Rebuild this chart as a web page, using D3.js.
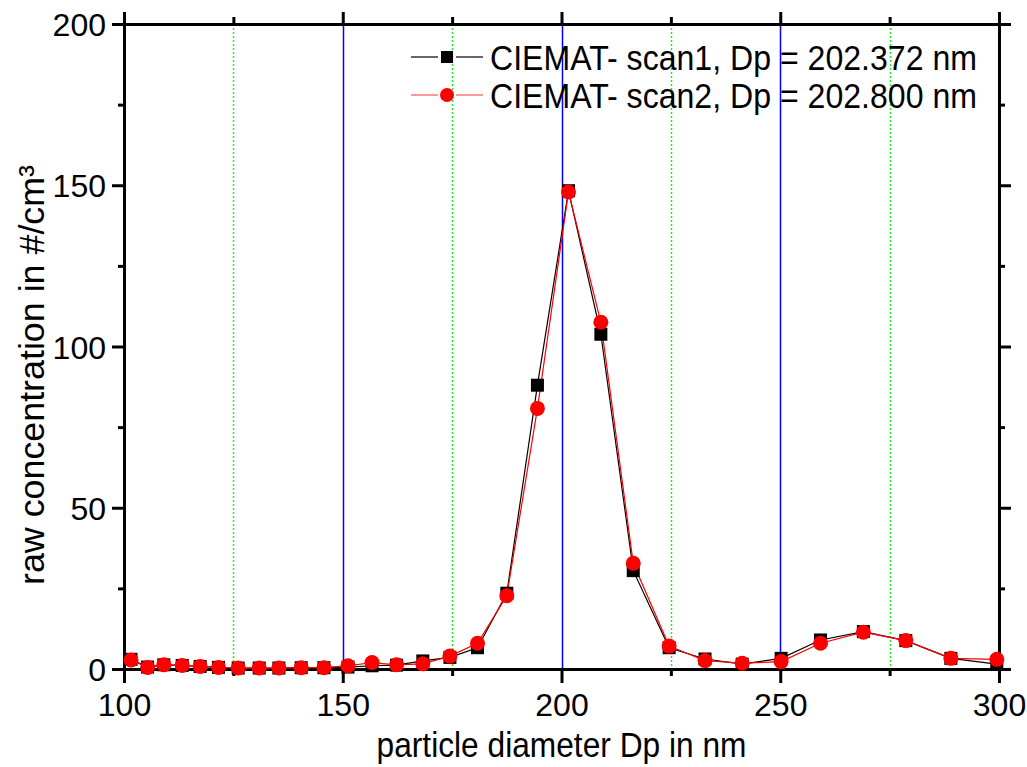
<!DOCTYPE html>
<meta charset="utf-8">
<style>
body { margin: 0; background: #fff; }
svg { font-family: "Liberation Sans", Arial, sans-serif; }
.axis path, .axis line { stroke: #000; stroke-width: 3; fill: none; }
.axis text { font-size: 32px; fill: #000; }
</style>
<body>
<script src="https://cdn.jsdelivr.net/npm/d3@7"></script>
<script>
// bin midpoints (nm)
var dp = [101.6, 105.4, 109.1, 113.3, 117.4, 121.6, 126.1, 130.9, 135.4, 140.5,
          145.7, 151.2, 156.7, 162.3, 168.3, 174.5, 180.8, 187.5, 194.5, 201.6,
          209.0, 216.4, 224.6, 232.8, 241.3, 250.2, 259.2, 269.0, 278.7, 289.0, 299.5];
var scan1 = [3.0, 0.6, 1.3, 1.1, 0.8, 0.5, 0.3, 0.3, 0.3, 0.4,
             0.4, 0.6, 1.0, 1.2, 2.5, 3.6, 6.6, 23.5, 88.0, 148.3,
             103.8, 30.5, 6.6, 3.1, 1.5, 3.3, 9.0, 11.6, 8.8, 3.3, 1.5];
var scan2 = [2.8, 0.5, 1.3, 1.1, 0.8, 0.5, 0.3, 0.3, 0.3, 0.4,
             0.4, 1.0, 2.0, 1.3, 1.6, 4.0, 8.0, 22.7, 80.8, 147.9,
             107.5, 32.8, 7.1, 2.6, 1.8, 2.3, 8.0, 11.4, 8.8, 3.3, 3.0];
var legendNames = ["CIEMAT- scan1, Dp = 202.372 nm", "CIEMAT- scan2, Dp = 202.800 nm"];
var xMajor = [100, 150, 200, 250, 300];
var xMinor = [125, 175, 225, 275];
var yMajor = [0, 50, 100, 150, 200];
var yMinor = [25, 75, 125, 175];

var margin = {top: 24, right: 28, bottom: 98, left: 124},
    width = 1027 - margin.left - margin.right,
    height = 767 - margin.top - margin.bottom;

var x = d3.scaleLinear().domain([100, 300]).range([0, width]);
var y = d3.scaleLinear().domain([0, 200]).range([height, 0]);

var svg = d3.select("body").append("svg")
    .attr("width", 1027)
    .attr("height", 767)
  .append("g")
    .attr("transform", "translate(" + margin.left + "," + margin.top + ")");

// vertical grid: blue at majors, green dotted at minors
svg.selectAll(".gmaj")
    .data(xMajor.slice(1, -1))
  .enter().append("line")
    .attr("x1", function(d) { return Math.round(x(d)) + 0.5; })
    .attr("x2", function(d) { return Math.round(x(d)) + 0.5; })
    .attr("y1", 0).attr("y2", height)
    .style("stroke", "#0000ff").style("stroke-width", 1.5);
svg.selectAll(".gmin")
    .data(xMinor)
  .enter().append("line")
    .attr("x1", function(d) { return Math.round(x(d)) + 0.5; })
    .attr("x2", function(d) { return Math.round(x(d)) + 0.5; })
    .attr("y1", 0).attr("y2", height)
    .style("stroke", "#22ee22").style("stroke-width", 1.5)
    .style("stroke-dasharray", "2,2");

// axes
function addAxis(axisFn, scale, vals, size, labels, transform) {
  var a = axisFn(scale).tickValues(vals).tickSize(size).tickPadding(8);
  if (!labels) a.tickFormat("");
  var g = svg.append("g").attr("class", "axis");
  if (transform) g.attr("transform", transform);
  g.call(a);
  return g;
}
addAxis(d3.axisBottom, x, xMinor, 7, false, "translate(0," + height + ")");
addAxis(d3.axisBottom, x, xMajor, 14, true, "translate(0," + height + ")");
addAxis(d3.axisTop, x, xMinor, 7, false);
addAxis(d3.axisTop, x, xMajor, 12, false);
addAxis(d3.axisLeft, y, yMinor, 6, false);
addAxis(d3.axisLeft, y, yMajor, 12, true);
addAxis(d3.axisRight, y, yMinor, 6, false, "translate(" + width + ",0)");
addAxis(d3.axisRight, y, yMajor, 12, false, "translate(" + width + ",0)");
svg.selectAll(".axis .tick text").each(function() {
  var t = d3.select(this);
  if (t.attr("y") && +t.attr("y") > 0) t.attr("y", 24).attr("dy", "0.71em");
  if (t.attr("x") && +t.attr("x") < 0) t.attr("x", -18).attr("dy", "0.36em");
});

// data
var line = d3.line()
    .x(function(d, i) { return x(dp[i]); })
    .y(function(d) { return y(d); });

svg.append("path").attr("d", line(scan1))
    .style("fill", "none").style("stroke", "#000").style("stroke-width", 1.2);
svg.append("path").attr("d", line(scan2))
    .style("fill", "none").style("stroke", "#ff0000").style("stroke-width", 1.2);

svg.selectAll(".sq")
    .data(scan1)
  .enter().append("rect")
    .attr("x", function(d, i) { return x(dp[i]) - 6.5; })
    .attr("y", function(d) { return y(d) - 6.5; })
    .attr("width", 13).attr("height", 13)
    .style("fill", "#000");
svg.selectAll(".ci")
    .data(scan2)
  .enter().append("circle")
    .attr("cx", function(d, i) { return x(dp[i]); })
    .attr("cy", function(d) { return y(d); })
    .attr("r", 7.5)
    .style("fill", "#ff0000");

// legend
var leg = svg.append("g").attr("transform", "translate(287,33)");
var legColors = ["#000", "#ff5555"];
legendNames.forEach(function(name, i) {
  var g = leg.append("g").attr("transform", "translate(0," + (i * 38) + ")");
  g.append("line").attr("x1", 0).attr("x2", 27).attr("y1", 0).attr("y2", 0)
      .style("stroke", legColors[i]).style("stroke-width", 1.2);
  g.append("line").attr("x1", 45).attr("x2", 72).attr("y1", 0).attr("y2", 0)
      .style("stroke", legColors[i]).style("stroke-width", 1.2);
  if (i === 0) {
    g.append("rect").attr("x", 30).attr("y", -6).attr("width", 12).attr("height", 12)
        .style("fill", "#000");
  } else {
    g.append("circle").attr("cx", 36).attr("cy", 0).attr("r", 7).style("fill", "#ff0000");
  }
  g.append("text").attr("x", 79).attr("y", 0).attr("dy", "0.36em")
      .attr("textLength", 487).attr("lengthAdjust", "spacingAndGlyphs")
      .style("font-size", "35px").text(name);
});

// axis titles
svg.append("text")
    .attr("x", width / 2).attr("y", height + 88)
    .attr("text-anchor", "middle")
    .attr("textLength", 370).attr("lengthAdjust", "spacingAndGlyphs")
    .style("font-size", "35px")
    .text("particle diameter Dp in nm");

svg.append("text")
    .attr("transform", "rotate(-90)")
    .attr("x", -(375 - margin.top)).attr("y", -80)
    .attr("text-anchor", "middle")
    .attr("textLength", 420).attr("lengthAdjust", "spacingAndGlyphs")
    .style("font-size", "35px")
    .text("raw concentration in #/cm³");
</script>
</body>
